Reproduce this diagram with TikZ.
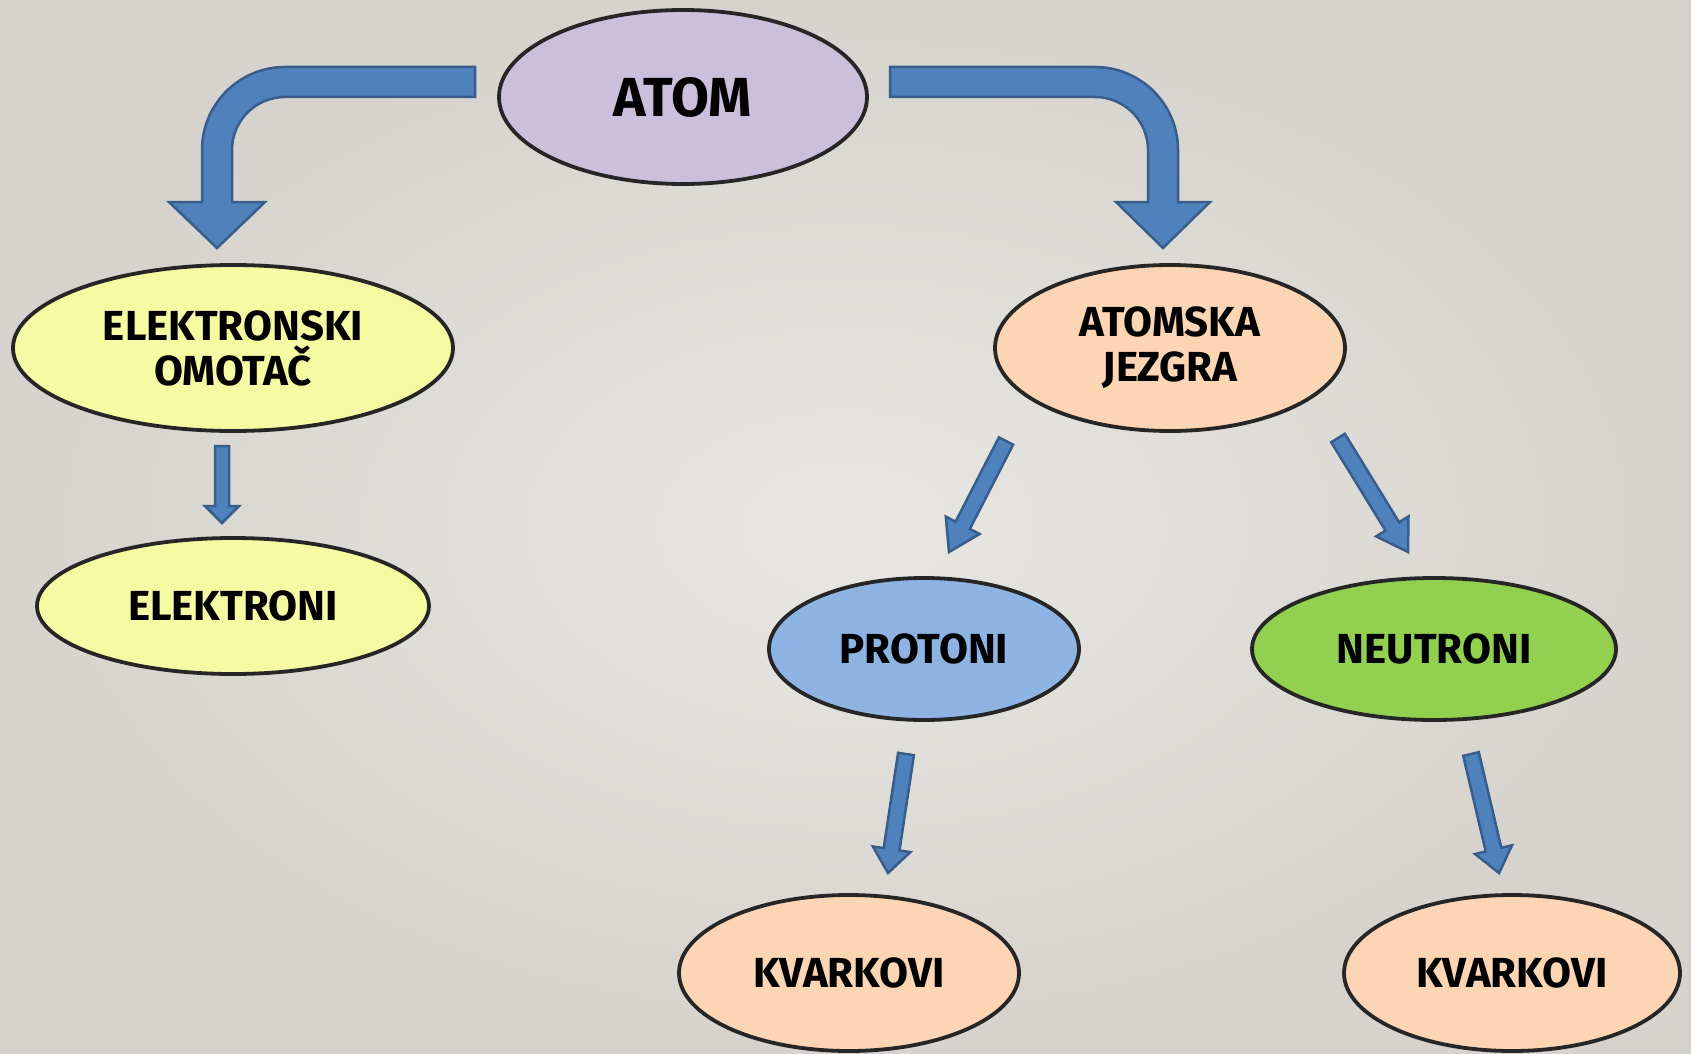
\documentclass[tikz,border=0pt]{standalone}
\usepackage{fontspec}
\setmainfont{Fira Sans}
\usetikzlibrary{shapes.geometric,calc}
\definecolor{bgin}{HTML}{E8E7E3}
\definecolor{bgout}{HTML}{D6D3CE}
\definecolor{arrfill}{HTML}{4F81BD}
\definecolor{arrdraw}{HTML}{385D8A}
\definecolor{cAtom}{HTML}{CBC0DB}
\definecolor{cYel}{HTML}{F5FBA3}
\definecolor{cPeach}{HTML}{FCD5B5}
\definecolor{cBlue}{HTML}{8DB4E2}
\definecolor{cGreen}{HTML}{92D050}
\definecolor{cEdge}{HTML}{262626}
\tikzset{
  ell/.style={ellipse, draw=cEdge, line width=3.8pt, inner sep=0pt, align=center,
    font=\fontsize{42}{45}\selectfont\bfseries},
  barrow/.style={fill=arrfill, draw=arrdraw, line width=2.5pt, line join=miter},
}
\newcommand\blockarrow[5]{%
  \coordinate (h) at ($(#2)!#5!(#1)$);
  \draw[barrow] ($(#1)!#3!90:(#2)$) -- ($(h)!#3!90:(#2)$) -- ($(h)!#4!90:(#2)$)
    -- (#2) -- ($(h)!#4!-90:(#2)$) -- ($(h)!#3!-90:(#2)$) -- ($(#1)!#3!-90:(#2)$) -- cycle;
}
\begin{document}
\begin{tikzpicture}[x=1pt,y=-1pt]
\useasboundingbox (0,0) rectangle (1691,1054);
\shade[inner color=bgin, outer color=bgout] (0,0) rectangle (1691,1054);

% nodes
\node[ell, fill=cAtom, minimum width=368pt, minimum height=174pt,
  font=\fontsize{55}{58}\selectfont\bfseries] (atom) at (683,97) {ATOM};
\node[ell, fill=cYel, minimum width=440pt, minimum height=166pt] (omotac) at (233,348) {ELEKTRONSKI\\OMOTAČ};
\node[ell, fill=cYel, minimum width=392pt, minimum height=136pt] (elek) at (233,606) {ELEKTRONI};
\node[ell, fill=cPeach, minimum width=350pt, minimum height=166pt] (jezgra) at (1170,348) {ATOMSKA\\JEZGRA};
\node[ell, fill=cBlue, minimum width=310pt, minimum height=142pt] (prot) at (924,649) {PROTONI};
\node[ell, fill=cGreen, minimum width=364pt, minimum height=142pt] (neut) at (1434,649) {NEUTRONI};
\node[ell, fill=cPeach, minimum width=340pt, minimum height=156pt] (kv1) at (849,973) {KVARKOVI};
\node[ell, fill=cPeach, minimum width=336pt, minimum height=156pt] (kv2) at (1512,973) {KVARKOVI};

% bent arrows
\draw[barrow] (475,67) -- (285,67) .. controls (239.2,67) and (202,104.2) .. (202,150)
  -- (202,202) -- (169,202) -- (217,248) -- (265,202) -- (232,202) -- (232,150)
  .. controls (232,120.7) and (255.7,97) .. (285,97) -- (475,97) -- cycle;
\draw[barrow] (890,67) -- (1095,67) .. controls (1140.8,67) and (1178,104.2) .. (1178,150)
  -- (1178,202) -- (1210,202) -- (1163,248) -- (1116,202) -- (1148,202) -- (1148,150)
  .. controls (1148,120.7) and (1124.3,97) .. (1095,97) -- (890,97) -- cycle;

% straight arrows
\coordinate (t1) at (222,446); \coordinate (p1) at (222,523);
\coordinate (t2) at (1006,441); \coordinate (p2) at (949,552);
\coordinate (t3) at (1338,438); \coordinate (p3) at (1408,552);
\coordinate (t4) at (906,754); \coordinate (p4) at (888,873);
\coordinate (t5) at (1471,754); \coordinate (p5) at (1499,873);
\blockarrow{t1}{p1}{7pt}{17pt}{17pt}
\blockarrow{t2}{p2}{8pt}{19pt}{30pt}
\blockarrow{t3}{p3}{8pt}{19pt}{30pt}
\blockarrow{t4}{p4}{8pt}{19pt}{24pt}
\blockarrow{t5}{p5}{8pt}{19pt}{24pt}
\end{tikzpicture}
\end{document}
